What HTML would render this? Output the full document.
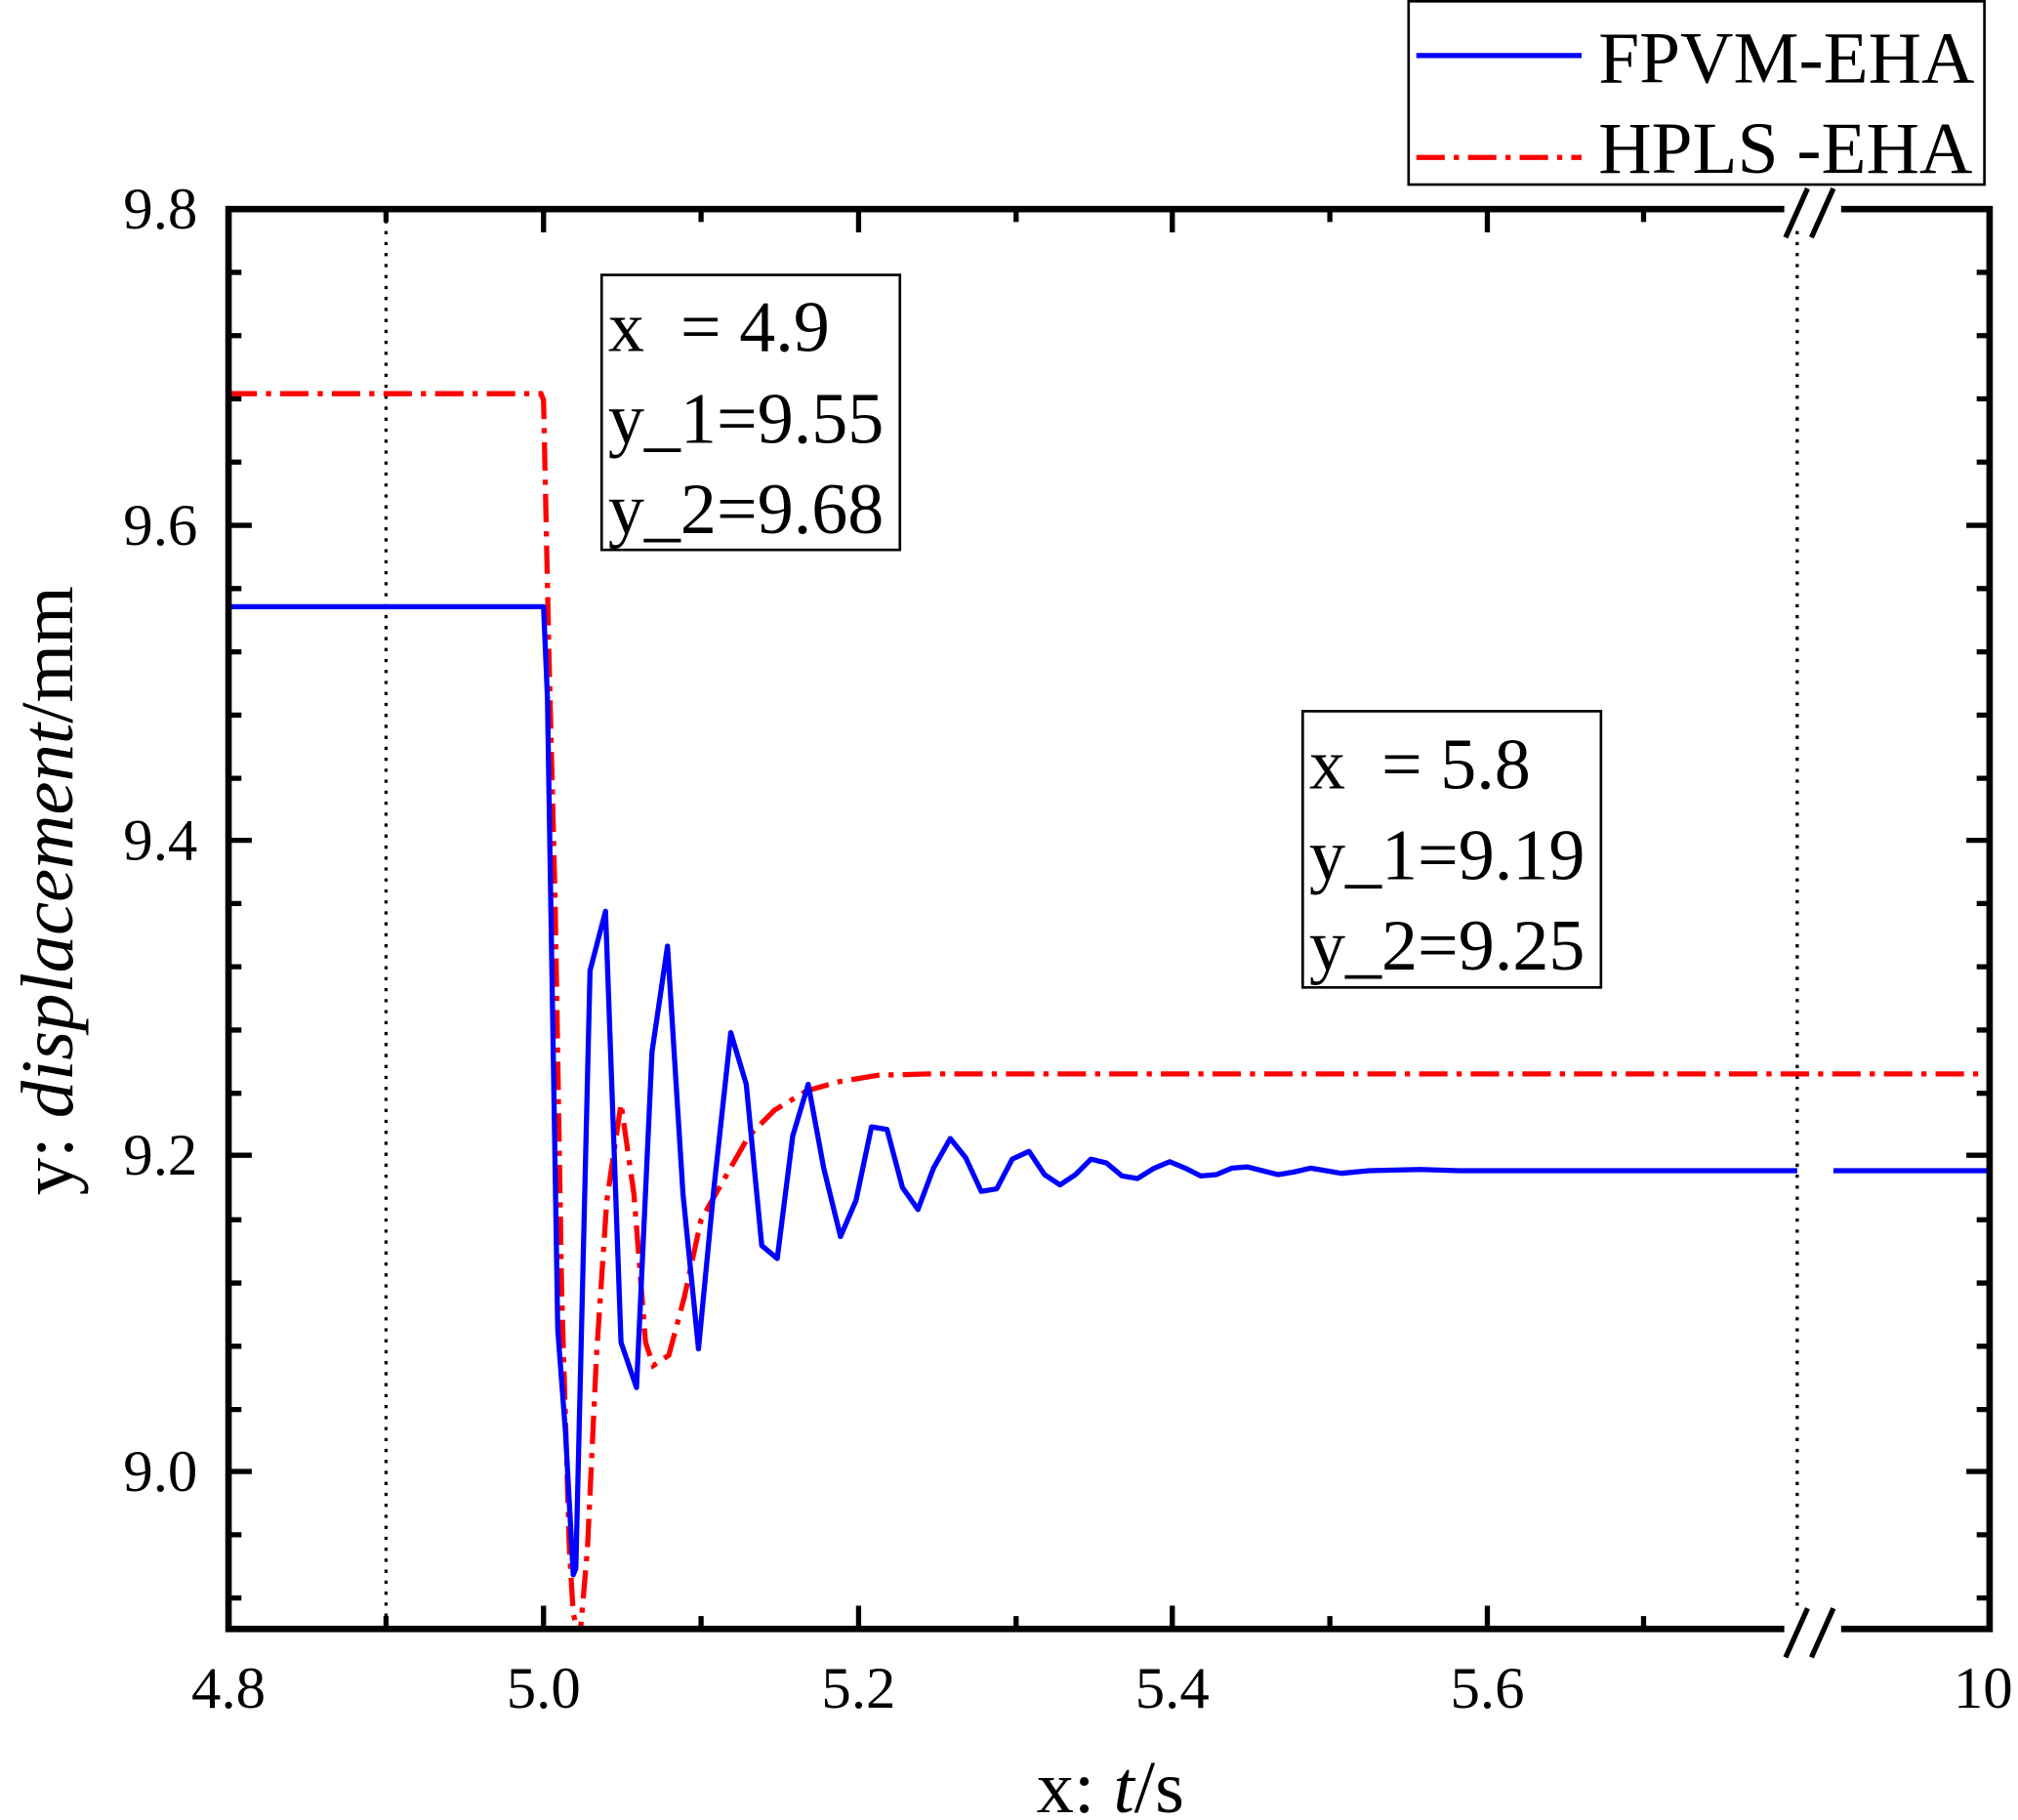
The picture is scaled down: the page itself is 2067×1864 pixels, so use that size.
<!DOCTYPE html>
<html><head><meta charset="utf-8"><style>
html,body{margin:0;padding:0;background:#fff;}
svg{display:block;}
text{font-family:"Liberation Serif",serif;fill:#000;}
</style></head><body>
<svg width="2067" height="1864" viewBox="0 0 1563 1410" preserveAspectRatio="none" xmlns="http://www.w3.org/2000/svg">
<rect width="1563" height="1410" fill="#fff"/>
<defs><clipPath id="c"><rect x="177" y="162" width="1364" height="1100"/></clipPath></defs>
<line x1="299" y1="162" x2="299" y2="1262" stroke="#000" stroke-width="2.5" stroke-dasharray="2.5,6"/>
<line x1="1392" y1="162" x2="1392" y2="1262" stroke="#000" stroke-width="2.5" stroke-dasharray="2.5,6"/>
<g clip-path="url(#c)">
<polyline fill="none" stroke="#ff0000" stroke-width="4" stroke-dasharray="22,7,4,7" points="177,305 419,305 421,310 425,500 430,700 435,1000 441,1200 444,1250 449,1270 455,1200 462,1050 470,930 481,855 491,925 500,1040 506,1058 518,1050 530,1005 543,945 560,915 580,880 600,860 625,845 650,838 680,833 720,832 1541,832"/>
<polyline fill="none" stroke="#0000ff" stroke-width="4" stroke-linejoin="round" points="177,470 421,470 424,540 432,1030 438,1110 444,1220 446,1215 457,752 469,706 481,1040 493,1075 505,815 517,733 529,925 541,1045 553,920 566,800 578,840 590,965 602,975 614,880 626,840 638,905 651,958 663,930 675,873 687,875 699,920 711,937 723,905 736,882 748,897 760,923 772,921 784,898 797,892 809,910 821,918 833,910 845,898 857,901 869,911 881,913 894,905 906,900 918,905 930,911 942,910 954,905 966,904 978,907 990,910 1002,908 1015,905 1027,907 1039,909 1060,907 1100,906 1130,907 1200,907 1392,907"/>
<line x1="1420" y1="907" x2="1541" y2="907" stroke="#0000ff" stroke-width="4"/>
</g>
<rect x="177" y="162" width="1364" height="1100" fill="none" stroke="#000" stroke-width="5"/>
<g stroke="#000" stroke-width="4">
<path d="M177,1262v-18M421,1262v-18M665,1262v-18M908,1262v-18M1152,1262v-18M177,162v18M421,162v18M665,162v18M908,162v18M1152,162v18"/>
<path d="M299,1262v-10M543,1262v-10M787,1262v-10M1030,1262v-10M1273,1262v-10M299,162v10M543,162v10M787,162v10M1030,162v10M1273,162v10"/>
<path d="M177,407h18M177,651h18M177,895h18M177,1140h18M1541,407h-18M1541,651h-18M1541,895h-18M1541,1140h-18"/>
<path d="M177,211h10M177,260h10M177,309h10M177,358h10M177,456h10M177,505h10M177,554h10M177,603h10M177,700h10M177,749h10M177,798h10M177,847h10M177,945h10M177,994h10M177,1043h10M177,1092h10M177,1189h10M177,1238h10
M1541,211h-10M1541,260h-10M1541,309h-10M1541,358h-10M1541,456h-10M1541,505h-10M1541,554h-10M1541,603h-10M1541,700h-10M1541,749h-10M1541,798h-10M1541,847h-10M1541,945h-10M1541,994h-10M1541,1043h-10M1541,1092h-10M1541,1189h-10M1541,1238h-10"/>
</g>
<rect x="1382" y="150" width="44" height="24" fill="#fff"/>
<rect x="1382" y="1250" width="44" height="24" fill="#fff"/>
<g stroke="#000" stroke-width="4">
<path d="M1383,184L1400,146M1403,184L1420,146M1383,1284L1400,1246M1403,1284L1420,1246"/>
</g>
<g font-size="46" text-anchor="end">
<text x="153" y="177">9.8</text>
<text x="153" y="422">9.6</text>
<text x="153" y="666">9.4</text>
<text x="153" y="910">9.2</text>
<text x="153" y="1155">9.0</text>
</g>
<g font-size="46" text-anchor="middle">
<text x="177" y="1323">4.8</text>
<text x="421" y="1323">5.0</text>
<text x="665" y="1323">5.2</text>
<text x="908" y="1323">5.4</text>
<text x="1152" y="1323">5.6</text>
<text x="1536" y="1323">10</text>
</g>
<text x="860" y="1404" font-size="58" text-anchor="middle">x: <tspan font-style="italic">t</tspan>/s</text>
<text transform="translate(56,690) rotate(-90)" font-size="58" text-anchor="middle">y: <tspan font-style="italic">displacement</tspan>/mm</text>
<rect x="1091" y="1" width="446" height="142" fill="#fff" stroke="#000" stroke-width="2"/>
<line x1="1097" y1="43" x2="1225" y2="43" stroke="#0000ff" stroke-width="4"/>
<line x1="1097" y1="122" x2="1225" y2="122" stroke="#ff0000" stroke-width="4" stroke-dasharray="22,7,4,7"/>
<text x="1238" y="64" font-size="57">FPVM-EHA</text>
<text x="1238" y="134" font-size="57">HPLS -EHA</text>
<rect x="466" y="213" width="231" height="213" fill="#fff" stroke="#000" stroke-width="2"/>
<g font-size="56">
<text x="471" y="272" xml:space="preserve">x  = 4.9</text>
<text x="471" y="343">y_1=9.55</text>
<text x="471" y="413">y_2=9.68</text>
</g>
<rect x="1009" y="551" width="231" height="214" fill="#fff" stroke="#000" stroke-width="2"/>
<g font-size="56">
<text x="1014" y="611" xml:space="preserve">x  = 5.8</text>
<text x="1014" y="681">y_1=9.19</text>
<text x="1014" y="751">y_2=9.25</text>
</g>
</svg>
</body></html>
